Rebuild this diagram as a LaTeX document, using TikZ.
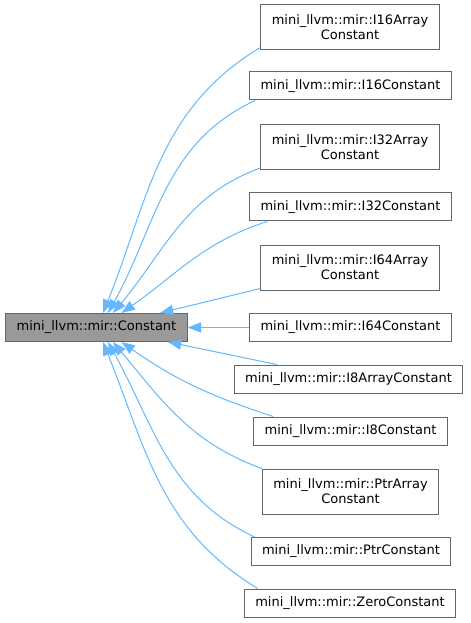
\documentclass[tikz,border=0pt]{standalone}
\usepackage{fontspec}
\setmainfont{DejaVu Sans}
\usetikzlibrary{calc, arrows.meta}

\definecolor{edgeblue}{HTML}{63B8FF}
\definecolor{boxline}{HTML}{666666}
\definecolor{basefill}{HTML}{999999}

\begin{document}
\begin{tikzpicture}[
  x=0.75pt, y=0.75pt,
  font=\fontsize{9.75}{11.25}\selectfont,
  box/.style={draw=boxline, fill=white, line width=0.75pt, inner xsep=8.2pt, inner ysep=0pt, minimum height=21pt, align=center},
  twobox/.style={box, minimum height=33.75pt},
  basebox/.style={box, fill=basefill},
  edge/.style={-{Triangle[length=10pt, width=7.5pt]}, draw=edgeblue, line width=0.75pt},
]
\useasboundingbox (0,0) rectangle (470,-623);

% Basisklasse
\node[basebox] (base) at (96.5,-327.5) {mini\_llvm::mir::Constant};

% abgeleitete Klassen
\node[twobox] (i16arr) at (350,-27.5)  {mini\_llvm::mir::I16Array\\Constant};
\node[box]    (i16)    at (350.5,-86)  {mini\_llvm::mir::I16Constant};
\node[twobox] (i32arr) at (350,-147)   {mini\_llvm::mir::I32Array\\Constant};
\node[box]    (i32)    at (350.5,-207) {mini\_llvm::mir::I32Constant};
\node[twobox] (i64arr) at (350,-267.5) {mini\_llvm::mir::I64Array\\Constant};
\node[box]    (i64)    at (350.5,-327.5) {mini\_llvm::mir::I64Constant};
\node[box]    (i8arr)  at (348.5,-379) {mini\_llvm::mir::I8ArrayConstant};
\node[box]    (i8)     at (350.5,-431) {mini\_llvm::mir::I8Constant};
\node[twobox] (ptrarr) at (350.5,-491.5) {mini\_llvm::mir::PtrArray\\Constant};
\node[box]    (ptr)    at (351,-551.5) {mini\_llvm::mir::PtrConstant};
\node[box]    (zero)   at (350,-603)   {mini\_llvm::mir::ZeroConstant};

% Vererbungspfeile (obere Haelfte)
\draw[edge] ($(i16arr.south west)+(0,3)$) to[out=211, in=68] ($(base.north)+(6.5,0)$);
\draw[edge] ($(i16.south west)+(6,0)$)    to[out=205, in=61] ($(base.north)+(11.5,0)$);
\draw[edge] ($(i32arr.south west)+(0,2)$) to[out=200, in=50] ($(base.north)+(16.5,0)$);
\draw[edge] ($(i32.south west)+(18,0)$)   to[out=198, in=35] ($(base.north)+(25,0)$);
\draw[edge] ($(i64arr.south west)+(0,2)$) -- ($(base.north)+(63.5,0)$);
\draw[edge] (i64.west) -- (base.east);

% Vererbungspfeile (untere Haelfte)
\draw[edge] ($(i8arr.north west)+(43,0)$) -- ($(base.south)+(71.5,0)$);
\draw[edge] ($(i8.north west)+(20,0)$)    to[out=162, in=-35] ($(base.south)+(25,0)$);
\draw[edge] (ptrarr.north west)           to[out=160, in=-50] ($(base.south)+(16.5,0)$);
\draw[edge] ($(ptr.north west)+(4,0)$)    to[out=155, in=-61] ($(base.south)+(11.5,0)$);
\draw[edge] ($(zero.north west)+(14,0)$)  to[out=149, in=-68] ($(base.south)+(6.5,0)$);

\end{tikzpicture}
\end{document}
